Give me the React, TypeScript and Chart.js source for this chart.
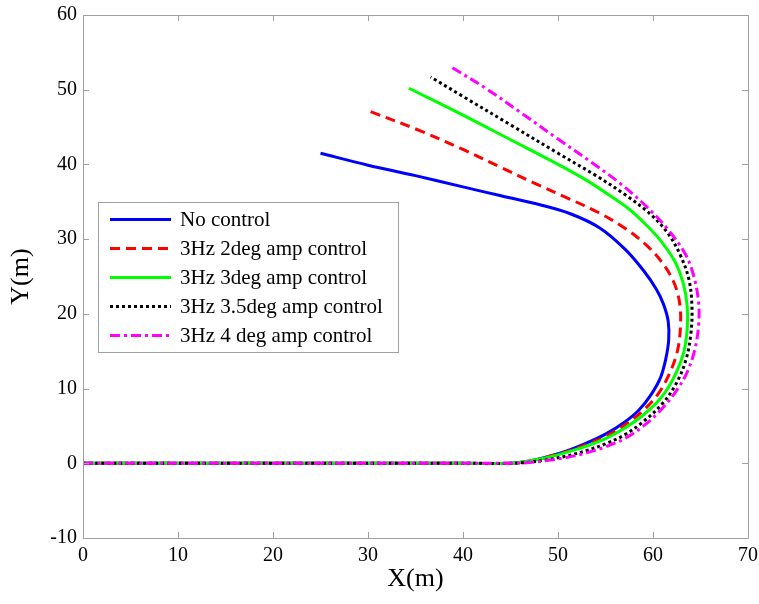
import React, { useEffect, useRef } from 'react';
import { Chart, registerables } from 'chart.js';

Chart.register(...registerables);

// ---- Data ----
const xTickValues = [0, 10, 20, 30, 40, 50, 60, 70];
const yTickValues = [-10, 0, 10, 20, 30, 40, 50, 60];

const seriesLabels = [
  'No control',
  '3Hz 2deg amp control',
  '3Hz 3deg amp control',
  '3Hz 3.5deg amp control',
  '3Hz 4 deg amp control',
];

const noControlX = [0, 20, 40, 45, 47, 49, 51, 53, 55, 57, 58.5, 59.8, 60.8, 61.35, 61.65, 61.6, 61.1, 60.35, 59.0, 57.1, 54.4, 51.3, 48.1, 44, 40, 35, 30, 25];
const noControlY = [0, 0, 0, 0, 0.3, 0.9, 1.7, 2.7, 3.9, 5.5, 7.1, 9.2, 11.5, 14, 16.5, 19, 21.3, 23.3, 25.8, 28.6, 31.5, 33.4, 34.6, 35.8, 37, 38.5, 39.9, 41.5];

const amp2X = [0, 20, 40, 45, 47, 49, 51, 53, 55, 57, 59, 60.6, 61.8, 62.6, 62.9, 62.8, 62.2, 61, 59.3, 57, 54.2, 51, 47.5, 44, 40, 35.5, 30.2];
const amp2Y = [0, 0, 0, 0, 0.3, 0.9, 1.6, 2.5, 3.6, 5.1, 7.1, 9.4, 12.2, 15.2, 18.5, 21.5, 24.2, 26.8, 29.2, 31.5, 33.6, 35.5, 37.5, 39.6, 42, 44.5, 47.1];

const amp3X = [0, 20, 40, 45, 47, 49, 51, 53, 55, 57, 59, 60.8, 62.2, 63.2, 63.6, 63.6, 63.2, 62.3, 60.8, 59.2, 57.5, 55.5, 53.1, 50, 45, 40, 34.3];
const amp3Y = [0, 0, 0, 0, 0.3, 0.8, 1.5, 2.3, 3.3, 4.7, 6.5, 8.7, 11.5, 14.7, 18, 21, 24, 27, 29.8, 32, 34, 35.8, 37.8, 40, 43.3, 46.6, 50.2];

const amp35X = [0, 20, 40, 45, 47, 49, 51, 53, 55, 57, 59, 61, 62.5, 63.5, 64, 64.1, 63.8, 62.9, 61.5, 59.5, 57, 54, 50, 45, 40, 36.6];
const amp35Y = [0, 0, 0, 0, 0.15, 0.5, 1.0, 1.7, 2.6, 3.8, 5.6, 8, 10.8, 14, 17.5, 21, 24.5, 27.8, 30.9, 33.6, 36, 38.5, 41.5, 45.3, 49.1, 51.7];

const amp4X = [0, 20, 40, 45, 47, 49, 51, 53, 55, 57, 59, 60.8, 62.4, 63.6, 64.4, 64.8, 64.8, 64.3, 63.4, 61.5, 59.2, 56.5, 53.5, 50, 46, 42.5, 38.8];
const amp4Y = [0, 0, 0, 0, 0.1, 0.4, 0.8, 1.4, 2.2, 3.3, 5, 7.1, 9.6, 12.2, 15.2, 18.5, 21.5, 25, 28, 31.4, 34.5, 37.5, 40.3, 43.4, 47, 50.1, 53];

const seriesX = [noControlX, amp2X, amp3X, amp35X, amp4X];
const seriesY = [noControlY, amp2Y, amp3Y, amp35Y, amp4Y];
const seriesColors = ['#0000ff', '#ff0000', '#00ff00', '#000000', '#ff00ff'];
const seriesDashes: number[][] = [[], [10, 6], [], [3, 3], [10, 4, 3, 4]];

const FONT = "'Times New Roman', 'Liberation Serif', serif";
const FRAME = '#a0a0a0';

const framePlugin = {
  id: 'frameAndLegend',
  afterDraw(chart: any) {
    const { ctx, chartArea, scales } = chart;
    const { left, right, top, bottom } = chartArea;
    ctx.save();
    ctx.strokeStyle = FRAME;
    ctx.lineWidth = 1;
    ctx.setLineDash([]);
    ctx.beginPath();
    ctx.rect(Math.round(left) + 0.5, Math.round(top) + 0.5, Math.round(right - left), Math.round(bottom - top));
    ctx.stroke();
    const tl = 6;
    ctx.beginPath();
    xTickValues.forEach((v) => {
      const px = Math.round(scales.x.getPixelForValue(v)) + 0.5;
      ctx.moveTo(px, bottom);
      ctx.lineTo(px, bottom - tl);
      ctx.moveTo(px, top);
      ctx.lineTo(px, top + tl);
    });
    yTickValues.forEach((v) => {
      const py = Math.round(scales.y.getPixelForValue(v)) + 0.5;
      ctx.moveTo(left, py);
      ctx.lineTo(left + tl, py);
      ctx.moveTo(right, py);
      ctx.lineTo(right - tl, py);
    });
    ctx.stroke();

    // legend
    const bx = 98.5, by = 202.5, bw = 300, bh = 150;
    ctx.fillStyle = '#ffffff';
    ctx.fillRect(bx, by, bw, bh);
    ctx.strokeStyle = FRAME;
    ctx.strokeRect(bx, by, bw, bh);
    chart.data.datasets.forEach((ds: any, i: number) => {
      const y = 219.5 + i * 29;
      ctx.strokeStyle = ds.borderColor;
      ctx.lineWidth = 3;
      ctx.setLineDash(ds.borderDash || []);
      ctx.beginPath();
      ctx.moveTo(110, y);
      ctx.lineTo(171, y);
      ctx.stroke();
      ctx.setLineDash([]);
      ctx.fillStyle = '#000000';
      ctx.font = `21px ${FONT}`;
      ctx.textBaseline = 'middle';
      ctx.textAlign = 'left';
      ctx.fillText(ds.label, 180, y + 1);
    });
    ctx.restore();
  },
};

export default function App() {
  const canvasRef = useRef<HTMLCanvasElement | null>(null);

  useEffect(() => {
    if (!canvasRef.current) return;
    const datasets = seriesLabels.map((label, i) => ({
      label,
      data: seriesX[i].map((x, j) => ({ x, y: seriesY[i][j] })),
      borderColor: seriesColors[i],
      backgroundColor: seriesColors[i],
      borderDash: seriesDashes[i],
      borderWidth: 3,
      pointRadius: 0,
      tension: 0.35,
      fill: false,
      order: seriesLabels.length - i,
    }));

    const chart = new Chart(canvasRef.current, {
      type: 'line',
      data: { datasets },
      options: {
        responsive: false,
        animation: false,
        layout: { padding: { left: 0, top: 15, right: 11, bottom: 0 } },
        plugins: {
          legend: { display: false },
          tooltip: { enabled: false },
        },
        scales: {
          x: {
            type: 'linear',
            min: 0,
            max: 70,
            grid: { display: false, drawTicks: false },
            border: { display: false },
            ticks: {
              stepSize: 10,
              padding: 6,
              color: '#000000',
              font: { family: FONT, size: 20 },
            },
            title: {
              display: true,
              text: 'X(m)',
              color: '#000000',
              font: { family: FONT, size: 26 },
              padding: { top: 0, bottom: 9 },
            },
            afterFit: (scale: any) => {
              scale.height = 66;
              scale.paddingLeft = 0;
              scale.paddingRight = 0;
            },
          },
          y: {
            type: 'linear',
            min: -10,
            max: 60,
            grid: { display: false, drawTicks: false },
            border: { display: false },
            ticks: {
              stepSize: 10,
              padding: 6,
              color: '#000000',
              font: { family: FONT, size: 20 },
            },
            title: {
              display: true,
              text: 'Y(m)',
              color: '#000000',
              font: { family: FONT, size: 26 },
              padding: { top: 6, bottom: 0 },
            },
            afterFit: (scale: any) => {
              scale.width = 83;
              scale.paddingTop = 0;
              scale.paddingBottom = 0;
            },
          },
        },
      },
      plugins: [framePlugin],
    });
    return () => chart.destroy();
  }, []);

  return (
    <div style={{ position: 'absolute', left: 0, top: 0, width: 759, height: 604, background: '#ffffff' }}>
      <canvas ref={canvasRef} width={759} height={604} style={{ display: 'block', width: 759, height: 604 }} />
    </div>
  );
}
